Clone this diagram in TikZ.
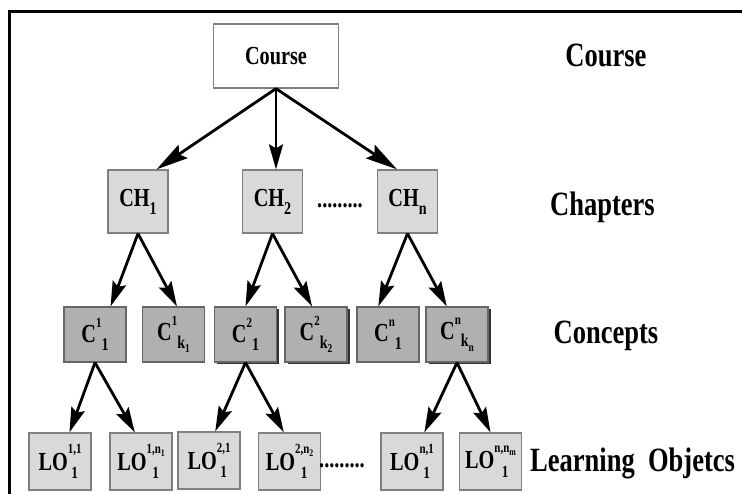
\documentclass[tikz,border=0pt]{standalone}
\usepackage{fontspec}
\setmainfont{Liberation Serif}[FakeStretch=0.78]
\usetikzlibrary{arrows.meta, shadows, positioning}

% sub- and superscripts built from text, so the digits keep the main font
\newcommand{\chsub}[1]{\raisebox{-0.3em}{\fontsize{18}{18}\selectfont #1}}
\newcommand{\csup}[1]{\raisebox{0.58em}{\fontsize{14}{14}\selectfont #1}}
\newcommand{\csub}[1]{\raisebox{-0.3em}{\fontsize{18}{18}\selectfont #1}}
\newcommand{\ksub}[1]{\raisebox{-0.25em}{\fontsize{12}{12}\selectfont #1}}
\newcommand{\nsub}[1]{\raisebox{-0.2em}{\fontsize{10}{10}\selectfont #1}}
\newsavebox{\losup}
\newcommand{\lostack}[2]{%
  \sbox{\losup}{\fontsize{14}{14}\selectfont #1}%
  \raisebox{0.62em}{\usebox{\losup}}\hspace{-\wd\losup}%
  \makebox[\wd\losup]{\raisebox{-0.32em}{\fontsize{17}{17}\selectfont #2}}}

\begin{document}
\begin{tikzpicture}[x=1pt, y=1pt, >={Stealth[length=25pt, width=14pt, inset=4pt]},
    box/.style={rectangle, draw=black!50, line width=1.2pt, inner sep=0pt, font=\fontsize{26}{30}\selectfont\bfseries},
    coursebox/.style={box, fill=white, minimum width=125pt, minimum height=64pt},
    chapbox/.style={box, fill=black!15, minimum width=60pt, minimum height=63pt},
    conbox/.style={box, fill=black!31, draw=black!60, minimum width=62pt, minimum height=55pt},
    shadowbox/.style={conbox, drop shadow={shadow xshift=2.5pt, shadow yshift=-2.5pt, fill=black!80, opacity=1}},
    lobox/.style={box, fill=black!15, minimum width=62pt, minimum height=57pt},
    dots/.style={inner sep=0pt, font=\fontsize{26}{30}\selectfont\bfseries},
    level/.style={inner sep=0pt, font=\fontsize{34}{40}\selectfont\bfseries},
    link/.style={->, line width=2.8pt},
    toplink/.style={-{Stealth[length=32pt, width=16pt, inset=5pt]}, line width=2.8pt}]
    \useasboundingbox (0,0) rectangle (742,-494);
    \draw[line width=3pt] (9.5,-494) -- (9.5,-11.5) -- (742,-11.5);

    % course and chapters
    \node[coursebox] (course) at (276,-56) {Course};
    \node[chapbox] (ch1) at (138,-201.5) {CH\chsub{1}};
    \node[chapbox] (ch2) at (272.5,-201.5) {CH\chsub{2}};
    \node[chapbox] (chn) at (407.5,-201.5) {CH\chsub{n}};
    \node[dots] (chdots) at (340,-206) {.........};

    % concepts
    \node[conbox] (c11) at (95,-334.5) {C\csup{1}\csub{1}};
    \node[conbox] (c1k) at (173.5,-334.5) {C\csup{1}\csub{k\ksub{1}}};
    \node[shadowbox] (c21) at (245.5,-334.5) {C\csup{2}\csub{1}};
    \node[shadowbox] (c2k) at (316,-334.5) {C\csup{2}\csub{k\ksub{2}}};
    \node[conbox] (cn1) at (388,-334.5) {C\csup{n}\csub{1}};
    \node[shadowbox] (cnk) at (457,-334.5) {C\csup{n}\csub{k\ksub{n}}};

    % learning objects
    \node[lobox] (lo11) at (60,-461.5) {LO\lostack{1,1}{1}};
    \node[lobox] (lo1n) at (141,-461.5) {LO\lostack{1,n\nsub{1}}{1}};
    \node[lobox] (lo21) at (209,-460.5) {LO\lostack{2,1}{1}};
    \node[lobox] (lo2n) at (289.5,-461.5) {LO\lostack{2,n\nsub{2}}{1}};
    \node[dots] (lodots) at (342,-466) {.........};
    \node[lobox] (lon1) at (412,-461.5) {LO\lostack{n,1}{1}};
    \node[lobox] (lonm) at (490.5,-461.5) {LO\lostack{n,n\nsub{m}}{1}};

    % level names
    \node[level] (lcourse) at (606,-55) {Course};
    \node[level] (lchap) at (602.5,-207) {Chapters};
    \node[level] (lcon) at (606,-336) {Concepts};
    \node[level, anchor=west] (llo) at (530,-463) {Learning\ \ Objetcs};

    \draw[toplink] (course.south) -- (ch1.60);
    \draw[link] (course.south) -- (course.south |- ch2.north);
    \draw[toplink] (course.south) -- (chn.108);

    \draw[link] (ch1.south) -- (c11.61);
    \draw[link] (ch1.south) -- (c1k.83);
    \draw[link] (ch2.south) -- (c21.north);
    \draw[link] (ch2.south) -- (c2k.98);
    \draw[link] (chn.south) -- (cn1.109);
    \draw[link] (chn.south) -- (cnk.110);

    \draw[link] (c11.south) -- (lo11.72);
    \draw[link] (c11.south) -- (lo1n.102);
    \draw[link] (c21.south) -- (lo21.78);
    \draw[link] (c21.south) -- (lo2n.101);
    \draw[link] (cnk.south) -- (lon1.67);
    \draw[link] (cnk.south) -- (lonm.north);
\end{tikzpicture}
\end{document}
